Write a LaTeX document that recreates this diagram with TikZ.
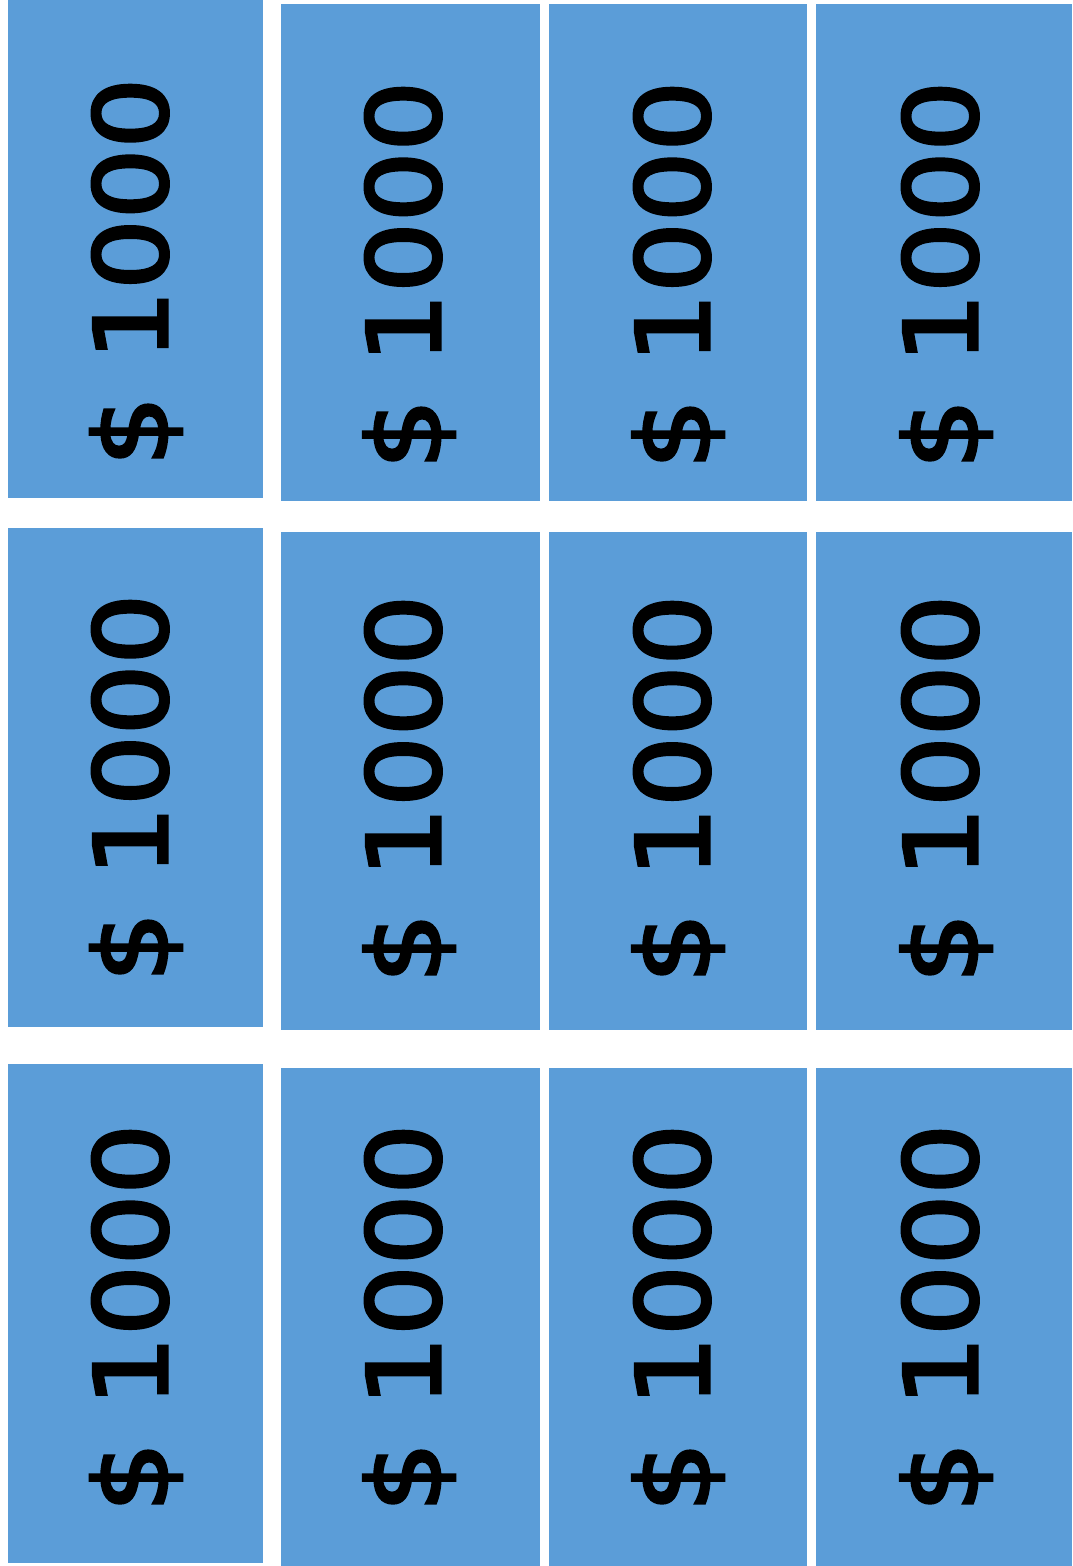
\documentclass[tikz,border=0pt]{standalone}
\usepackage{fontspec}
\setmainfont{DejaVu Sans}
\newfontfamily\billfont{DejaVu Sans}[FakeStretch=1.1, FakeBold=3]
\definecolor{billblue}{RGB}{91,157,216}
\tikzset{
  billbox/.style 2 args={fill=billblue, draw=none, inner sep=0pt, minimum width=#1, minimum height=#2},
  amount/.style={rotate=90, anchor=base, inner sep=0pt, text=black,
    font=\billfont\fontsize{101}{120}\selectfont}
}
\begin{document}
\begin{tikzpicture}[x=1pt,y=-1pt]
\path[fill=white, use as bounding box] (0,0) rectangle (1072,1566);
% column 1
\node[billbox={255pt}{498pt}] (b11) at (135.5,249) {};
\node[billbox={255pt}{499pt}] (b12) at (135.5,777.5) {};
\node[billbox={255pt}{499pt}] (b13) at (135.5,1313.5) {};
% column 2
\node[billbox={259pt}{497pt}] (b21) at (410.5,252.5) {};
\node[billbox={259pt}{498pt}] (b22) at (410.5,781) {};
\node[billbox={259pt}{498pt}] (b23) at (410.5,1317) {};
% column 3
\node[billbox={258pt}{497pt}] (b31) at (678,252.5) {};
\node[billbox={258pt}{498pt}] (b32) at (678,781) {};
\node[billbox={258pt}{498pt}] (b33) at (678,1317) {};
% column 4
\node[billbox={256pt}{497pt}] (b41) at (944,252.5) {};
\node[billbox={256pt}{498pt}] (b42) at (944,781) {};
\node[billbox={256pt}{498pt}] (b43) at (944,1317) {};
% amounts
\node[amount] (t11) at (167,272) {\$ 1000};
\node[amount] (t12) at (167,788) {\$ 1000};
\node[amount] (t13) at (167,1318) {\$ 1000};
\node[amount] (t21) at (440,275) {\$ 1000};
\node[amount] (t22) at (440,789) {\$ 1000};
\node[amount] (t23) at (440,1318) {\$ 1000};
\node[amount] (t31) at (709,275) {\$ 1000};
\node[amount] (t32) at (709,789) {\$ 1000};
\node[amount] (t33) at (709,1318) {\$ 1000};
\node[amount] (t41) at (977,275) {\$ 1000};
\node[amount] (t42) at (977,789) {\$ 1000};
\node[amount] (t43) at (977,1318) {\$ 1000};
\end{tikzpicture}
\end{document}
